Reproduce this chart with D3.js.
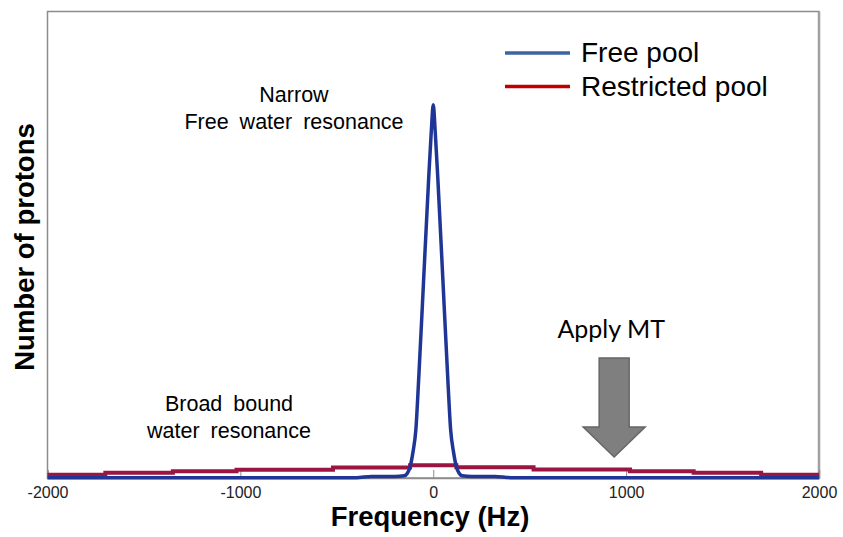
<!DOCTYPE html>
<html>
<head>
<meta charset="utf-8">
<script src="https://cdn.jsdelivr.net/npm/d3@7"></script>
<style>
  html, body { margin: 0; padding: 0; background: #fff; }
  svg { display: block; }
</style>
</head>
<body>
<svg id="chart" width="843" height="537"></svg>
<script>
// ---- data ----
const xTicks = [-2000, -1000, 0, 1000, 2000];
const freeFreq  = [-2000, -400, -320, -200, -150, -135, -120, -105, -90, -76, -50, -24, -10, 0, 10, 24, 50, 76, 90, 105, 120, 135, 150, 200, 320, 400, 2000];
const freeValue = [0.001, 0.001, 0.004, 0.004, 0.006, 0.012, 0.03, 0.07, 0.13, 0.26, 0.53, 0.80, 0.93, 1.0, 0.93, 0.80, 0.53, 0.26, 0.13, 0.07, 0.03, 0.012, 0.006, 0.004, 0.004, 0.001, 0.001];
const restrictedFreq  = [-2000, -1700, -1350, -1020, -520, -120, 120, 520, 1020, 1350, 1700, 2000];
const restrictedValue = [0.009, 0.014, 0.018, 0.022, 0.028, 0.034, 0.029, 0.023, 0.018, 0.014, 0.009, 0.009];
const seriesNames = ["Free pool", "Restricted pool"];
const annotations = [
  { lines: ["Narrow", "Free water resonance"] },
  { lines: ["Broad bound", "water resonance"] }
];
const arrowLabel = "Apply MT";
const arrowFreq = 938;

// ---- layout ----
const svg = d3.select("#chart");
const L = 47.5, R = 819, T = 11.5, B = 478;
const x = d3.scaleLinear().domain([-2000, 2000]).range([L, R]);
const y = d3.scaleLinear().domain([0, 1.25]).range([B, T]);
const FONT = "Liberation Sans, Arial, sans-serif";

const legendColors = ["#3b64a0", "#c00000"];
const lineColors = ["#1f3696", "#9c1540"];

// frame
svg.append("rect").attr("x", L).attr("y", T).attr("width", R - L).attr("height", B - T)
  .attr("fill", "none").attr("stroke", "#8c8c8c").attr("stroke-width", 1.5);
svg.append("line").attr("x1", R).attr("x2", R).attr("y1", T).attr("y2", B)
  .attr("stroke", "#a0a0a0").attr("stroke-width", 2.5);

// x axis
const xAxis = d3.axisBottom(x).tickValues(xTicks).tickSize(-8).tickPadding(9).tickFormat(d => String(d));
const gx = svg.append("g").attr("transform", `translate(0,${B})`).call(xAxis);
gx.select(".domain").attr("stroke", "#8c8c8c").attr("stroke-width", 1.5);
gx.selectAll(".tick line").attr("stroke", "#8c8c8c").attr("stroke-width", 1);
gx.selectAll(".tick text").attr("font-family", FONT)
  .attr("font-size", 16).attr("fill", "#222");

// axis titles
svg.append("text").attr("x", 430).attr("y", 526).attr("text-anchor", "middle")
  .attr("font-family", FONT).attr("font-weight", "bold")
  .attr("font-size", 27.5).attr("fill", "#000").text("Frequency (Hz)");
svg.append("text").attr("transform", "translate(34,247) rotate(-90)").attr("text-anchor", "middle")
  .attr("font-family", FONT).attr("font-weight", "bold")
  .attr("font-size", 27.5).attr("fill", "#000").text("Number of protons");

// lines
const restricted = restrictedFreq.map((f, i) => [f, restrictedValue[i]]);
const free = freeFreq.map((f, i) => [f, freeValue[i]]);
const stepLine = d3.line().x(d => x(d[0])).y(d => y(d[1])).curve(d3.curveStepAfter);
const line = d3.line().x(d => x(d[0])).y(d => y(d[1])).curve(d3.curveMonotoneX);

svg.append("path").datum(restricted).attr("d", stepLine).attr("fill", "none")
  .attr("stroke", lineColors[1]).attr("stroke-width", 4);
svg.append("path").datum(free).attr("d", line).attr("fill", "none")
  .attr("stroke", lineColors[0]).attr("stroke-width", 3.5).attr("stroke-linejoin", "round");

// legend
const lg = svg.append("g");
seriesNames.forEach((name, i) => {
  const yy = 53 + i * 33.5;
  lg.append("line").attr("x1", 505).attr("x2", 570).attr("y1", yy).attr("y2", yy)
    .attr("stroke", legendColors[i]).attr("stroke-width", 3.5);
  lg.append("text").attr("x", 581).attr("y", yy + 9)
    .attr("font-family", FONT).attr("font-size", 28)
    .attr("fill", "#000").text(name);
});

// annotations
const annPos = [{ x: 294, y: 102 }, { x: 229, y: 411 }];
annotations.forEach((a, i) => {
  a.lines.forEach((t, j) => {
    svg.append("text").attr("x", annPos[i].x).attr("y", annPos[i].y + j * 26.5)
      .attr("text-anchor", "middle").attr("font-family", FONT)
      .attr("font-size", 21.5).attr("fill", "#000")
      .attr("word-spacing", 5).text(t);
  });
});

// arrow
const ax = x(arrowFreq);
const arrowPts = [[ax - 15, 358], [ax + 15, 358], [ax + 15, 427], [ax + 31, 427], [ax, 457], [ax - 31, 427], [ax - 15, 427]];
svg.append("polygon").attr("points", arrowPts.map(p => p.join(",")).join(" "))
  .attr("fill", "#7f7f7f").attr("stroke", "#666").attr("stroke-width", 1.5);
svg.append("text").attr("x", ax - 3).attr("y", 338).attr("text-anchor", "middle")
  .attr("font-family", "Lato, 'Open Sans', sans-serif").attr("font-size", 25)
  .attr("fill", "#000").text(arrowLabel);
</script>
</body>
</html>
